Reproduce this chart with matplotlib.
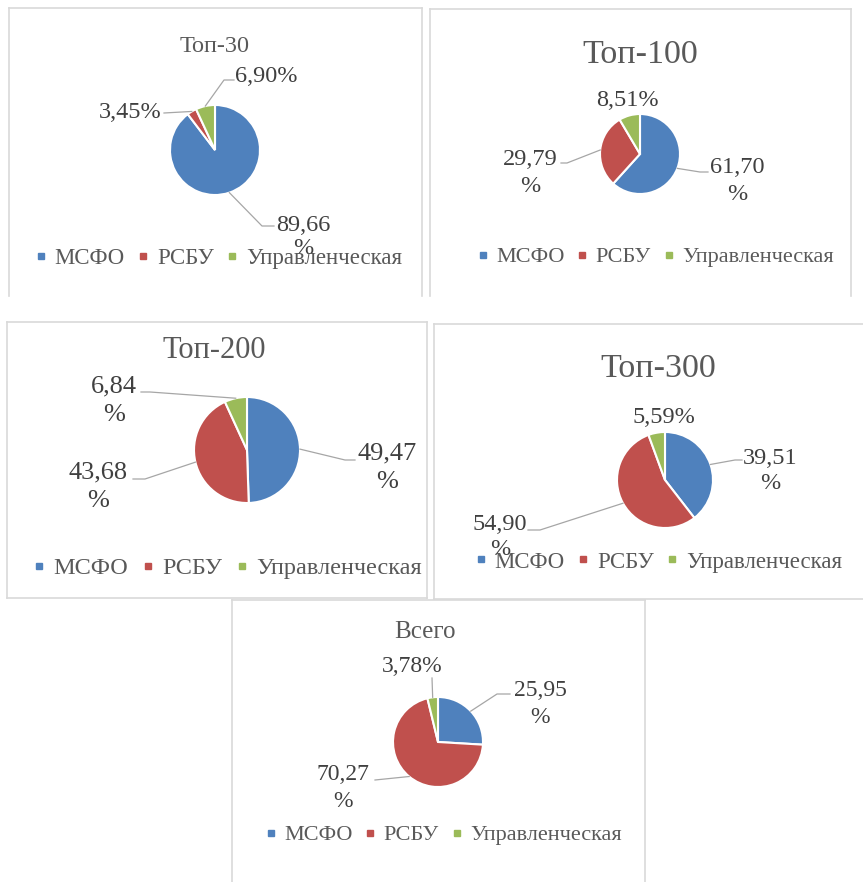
import numpy as np
import matplotlib
matplotlib.use("Agg")
import matplotlib.pyplot as plt
from matplotlib.lines import Line2D

plt.rcParams['font.family'] = ['Liberation Serif', 'DejaVu Serif']

# reporting standards used by the companies
categories = ["МСФО", "РСБУ", "Управленческая"]
colors = ["#4F81BD", "#C0504D", "#9BBB59"]

titles = ["Топ-30", "Топ-100", "Топ-200", "Топ-300", "Всего"]
top30 = [89.66, 3.45, 6.90]
top100 = [61.70, 29.79, 8.51]
top200 = [49.47, 43.68, 6.84]
top300 = [39.51, 54.90, 5.59]
total = [25.95, 70.27, 3.78]
shares = [top30, top100, top200, top300, total]

# whether the "%" sign wraps to a second line
wrap = [
    [True, False, False],
    [True, True, False],
    [True, True, True],
    [True, True, False],
    [True, True, False],
]

W, H = 863, 882

# layout in pixels (origin top-left)
panels = [
    dict(box=(9, 8, 422, 296), sides="ltr", center=(215, 150), r=45,
         title=(215, 52, 17.5), fs=17.5, ls=1.15, legend=(218, 258, 16.5),
         labels=[(303, 237), (130, 113), (266, 76)],
         leaders=[[(262, 226), (274, 226)], [(164, 113)], [(224, 80), (234, 80)]]),
    dict(box=(430, 9, 851, 296), sides="ltr", center=(640, 154), r=40,
         title=(640, 63, 24.5), fs=17.5, ls=1.4, legend=(655, 257, 16),
         labels=[(737, 181), (530, 173), (627, 100)],
         leaders=[[(700, 172), (708, 172)], [(567, 163), (561, 163)], None]),
    dict(box=(7, 322, 427, 598), sides="ltrb", center=(247, 450), r=53,
         title=(214, 358, 22), fs=19, ls=1.4, legend=(227, 568, 17.5),
         labels=[(387, 468), (98, 487), (114, 401)],
         leaders=[[(345, 460), (355, 460)], [(145, 479), (133, 479)], [(150, 392), (141, 392)]]),
    dict(box=(434, 324, 875, 599), sides="ltb", center=(665, 480), r=48,
         title=(658, 377, 24.5), fs=17.5, ls=1.3, legend=(658, 562, 16.5),
         labels=[(770, 471), (500, 537), (664, 418)],
         leaders=[[(735, 460), (742, 460)], [(540, 530), (528, 530)], None]),
    dict(box=(232, 600, 645, 890), sides="ltr", center=(438, 742), r=45,
         title=(425, 638, 18), fs=17, ls=1.4, legend=(443, 835, 16),
         labels=[(540, 704), (343, 788), (412, 667)],
         leaders=[[(497, 694), (510, 694)], [(375, 780)], [(432, 678)]]),
]

fig = plt.figure(figsize=(W / 100, H / 100), dpi=100)
fig.patch.set_facecolor("white")


def fx(px):
    return px / W


def fy(py):
    return 1 - py / H


border = "#d9d9d9"
text_col = "#404040"
title_col = "#595959"
pad = 1.06

for p, title, vals, wr in zip(panels, titles, shares, wrap):
    x0, y0, x1, y1 = p["box"]
    edges = {"l": ([x0, x0], [y0, y1]), "r": ([x1, x1], [y0, y1]),
             "t": ([x0, x1], [y0, y0]), "b": ([x0, x1], [y1, y1])}
    for s in p["sides"]:
        xs, ys = edges[s]
        fig.add_artist(Line2D([fx(v) for v in xs], [fy(v) for v in ys],
                              transform=fig.transFigure, color=border, lw=1.2))

    cx, cy = p["center"]
    r = p["r"]
    ax = fig.add_axes([fx(cx - pad * r), fy(cy + pad * r), 2 * pad * r / W, 2 * pad * r / H])
    wedges, _ = ax.pie(vals, colors=colors, startangle=90, counterclock=False,
                       wedgeprops=dict(edgecolor="white", linewidth=1.5))
    ax.set_xlim(-pad, pad)
    ax.set_ylim(-pad, pad)
    ax.axis("off")

    tx, ty, tsize = p["title"]
    fig.text(fx(tx), fy(ty), title, ha="center", va="baseline",
             fontsize=tsize, color=title_col)

    for w, v, wrp, pos, lead in zip(wedges, vals, wr, p["labels"], p["leaders"]):
        txt = f"{v:.2f}".replace(".", ",") + ("\n%" if wrp else "%")
        fig.text(fx(pos[0]), fy(pos[1]), txt, ha="center", va="center",
                 fontsize=p["fs"], color=text_col, linespacing=p["ls"])
        if lead is None:
            continue
        mid = np.deg2rad((w.theta1 + w.theta2) / 2)
        xs = [np.cos(mid)] + [(ex - cx) / r for ex, ey in lead]
        ys = [np.sin(mid)] + [(cy - ey) / r for ex, ey in lead]
        ax.plot(xs, ys, color="#a6a6a6", lw=0.9, clip_on=False)

    lx, ly, lsize = p["legend"]
    handles = [Line2D([], [], marker="s", linestyle="", color=c, markersize=5)
               for c in colors]
    leg = fig.legend(handles, categories, loc="center", ncol=3,
                     bbox_to_anchor=(fx(lx), fy(ly)), frameon=False,
                     fontsize=lsize, handlelength=0.6, handletextpad=0.3,
                     columnspacing=0.5, borderpad=0, borderaxespad=0)
    for t in leg.get_texts():
        t.set_color(title_col)

fig.savefig("out.png", dpi=100)
